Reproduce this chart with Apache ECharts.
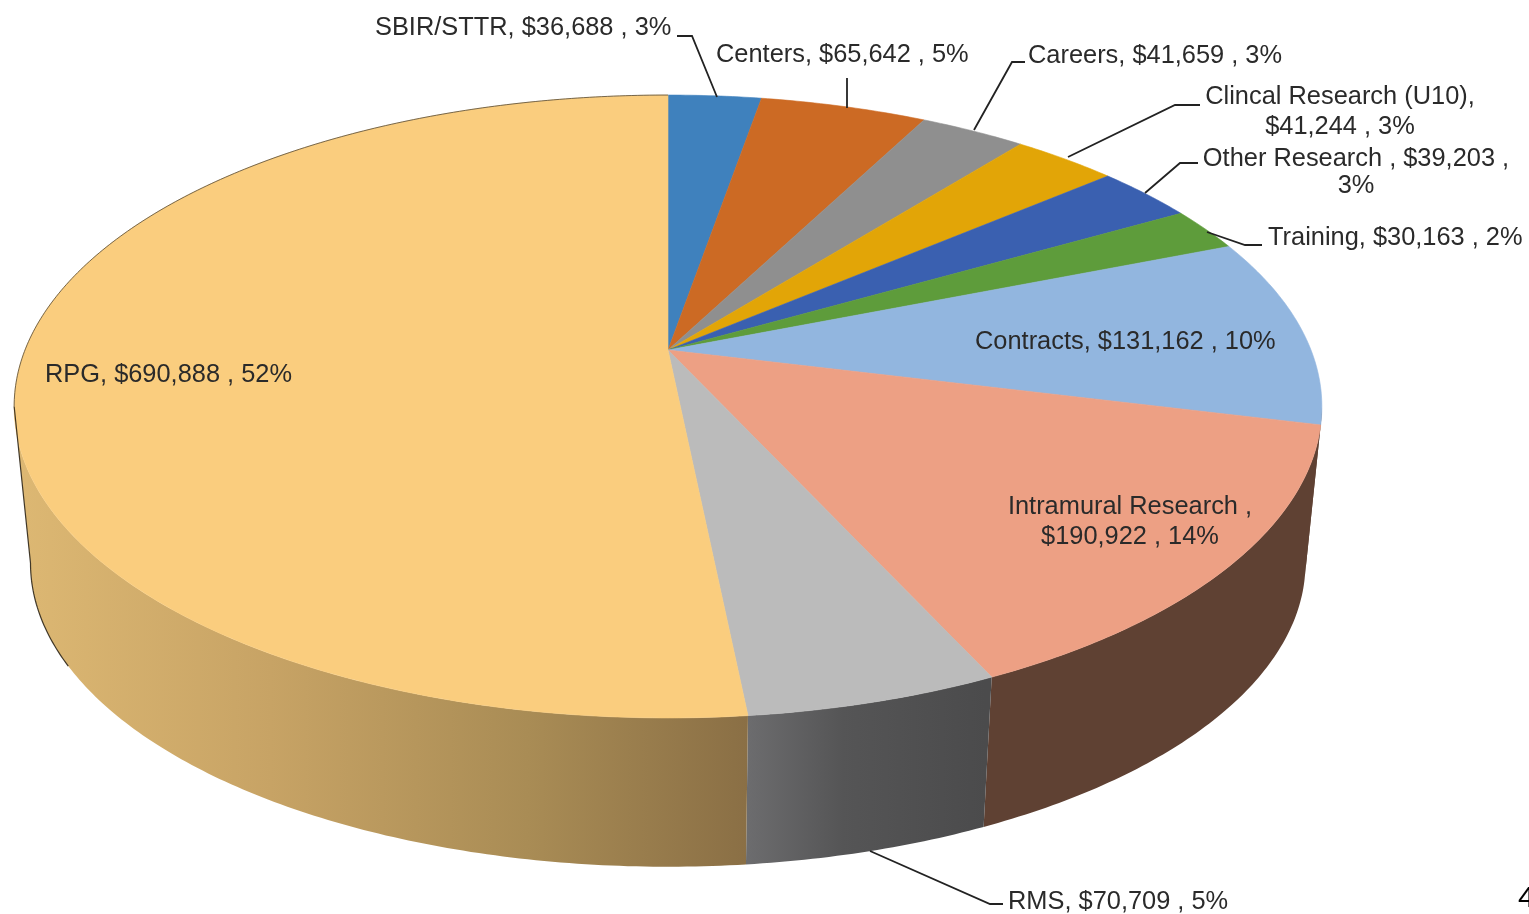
<!DOCTYPE html>
<html><head><meta charset="utf-8">
<style>html,body{margin:0;padding:0;background:#fff}#c{width:1529px;height:914px}</style>
<script src="https://cdn.jsdelivr.net/npm/echarts@6/dist/echarts.min.js"></script>
</head><body><div id="c"></div>
<script>
// ---- data, clockwise from 12 o'clock ----
const categories = ['SBIR/STTR','Centers','Careers','Clincal Research (U10)','Other Research ','Training','Contracts','Intramural Research ','RMS','RPG'];
const values = [36688,65642,41659,41244,39203,30163,131162,190922,70709,690888];
const percents = [3,5,3,3,3,2,10,14,5,52];
const topColors = ['#3F81BD','#CC6A24','#8F8F8F','#E2A507','#3A60B0','#5E9C3B','#92B6DF','#EDA084','#BBBBBB','#FACD7E'];

// ---- layout (page pixels), separate from the data ----
const labelBoxes = [
  {x:375,y:28,align:'left'},{x:716,y:55,align:'left'},{x:1028,y:56,align:'left'},
  {x:1340,y:112,align:'center'},{x:1356,y:172,align:'center'},
  {x:1268,y:238,align:'left'},{x:975,y:342,align:'left'},
  {x:1130,y:522,align:'center'},{x:1008,y:902,align:'left'},{x:45,y:375,align:'left'}
];
const leaders = [
  [[677,36],[692,36],[717,97]],[[847,78],[847,108]],[[1025,62],[1012,62],[974,130]],
  [[1200,105],[1175,105],[1068,157]],[[1198,163],[1180,163],[1145,193]],[[1262,245],[1245,245],[1207,232]],
  null,null,[[1003,904],[990,904],[870,851]],null
];
const CX=668, CY=350, A=643, B=301.2, K=0.1814, S=0.975, DY=158;
const EDGE_R=Math.acos(-K), EDGE_L=2*Math.PI-EDGE_R;
const FONT='25.4px "Liberation Sans", Arial, sans-serif';

const total = values.reduce((a,b)=>a+b,0);
let running = 0;
const slices = values.map((v,i)=>{const s=running; running+=v; return [i, s/total*2*Math.PI, running/total*2*Math.PI];});

function topPt(t){const u=Math.sin(t),v=-Math.cos(t),w=1-K*v;return [CX+A*u/w, CY+B*v/w];}
function botPt(t){const u=Math.sin(t),v=-Math.cos(t),w=1-K*v;return [CX+S*A*u/w, CY+DY+S*B*v/w];}
function arc(f,a,b,api){const n=Math.max(2,Math.ceil(Math.abs(b-a)*90)),p=[];for(let i=0;i<=n;i++)p.push(api.coord(f(a+(b-a)*i/n)));return p;}

const wallFill = {
  9:{type:'linear',global:true,x:14,y:0,x2:748,y2:0,colorStops:[{offset:0,color:'#DDB873'},{offset:.35,color:'#C7A365'},{offset:.7,color:'#A98C55'},{offset:1,color:'#8A6F45'}]},
  8:{type:'linear',global:true,x:748,y:0,x2:985,y2:0,colorStops:[{offset:0,color:'#6C6C6E'},{offset:.4,color:'#555556'},{offset:1,color:'#4B4B4C'}]},
  7:'#5F4133', 6:'#5F4133'
};

function renderWall(params,api){
  const i=api.value(0),a=Math.max(api.value(1),EDGE_R),b=Math.min(api.value(2),EDGE_L);
  if(b<=a) return {type:'group',children:[]};
  const pts=arc(topPt,a,b,api).concat(arc(botPt,b,a,api));
  return {type:'polygon',shape:{points:pts},style:{fill:wallFill[i]||'#555',stroke:null}};
}
function renderTop(params,api){
  const a=api.value(1),b=api.value(2);
  const pts=[api.coord([CX,CY])].concat(arc(topPt,a,b,api));
  return {type:'polygon',shape:{points:pts},style:{fill:topColors[api.value(0)],stroke:topColors[api.value(0)],lineWidth:.6}};
}
function renderOutline(params,api){
  if(api.value(0)!==9) return {type:'group',children:[]};
  const upper=arc(topPt,2*Math.PI,EDGE_L,api);
  const lower=arc(botPt,EDGE_L,EDGE_L-0.33,api);
  return {type:'group',children:[
    {type:'polyline',shape:{points:upper},style:{stroke:'#4a4030',lineWidth:1,fill:null,opacity:.75}},
    {type:'polyline',shape:{points:[upper[upper.length-1]].concat(lower)},style:{stroke:'#2e2618',lineWidth:1.2,fill:null,opacity:.9}}
  ]};
}
function labelText(i){
  const money='$'+values[i].toLocaleString('en-US');
  let t=categories[i]+', '+money+' , '+percents[i]+'%';
  if(i===3) t=categories[i]+',\n'+money+' , '+percents[i]+'%';
  if(i===4) t=categories[i]+', '+money+' ,\n'+percents[i]+'%';
  if(i===7) t=categories[i]+',\n'+money+' , '+percents[i]+'%';
  return t;
}
function renderLabel(params,api){
  const i=api.value(0),box=labelBoxes[i],kids=[];
  if(leaders[i]) kids.push({type:'polyline',shape:{points:leaders[i].map(p=>api.coord(p))},style:{stroke:'#222',lineWidth:1.8,fill:null}});
  const c=api.coord([box.x,box.y]);
  kids.push({type:'text',style:{text:labelText(i),x:c[0],y:c[1],font:FONT,fill:'#2a2a2a',align:box.align,verticalAlign:'middle',lineHeight:i===4?27:30}});
  return {type:'group',children:kids};
}
const common={type:'custom',coordinateSystem:'cartesian2d',data:slices,silent:true,animation:false,clip:false,encode:{x:[],y:[]}};
const chart=echarts.init(document.getElementById('c'),null,{renderer:'canvas'});
chart.setOption({
  animation:false,backgroundColor:'#fff',
  grid:{left:0,right:0,top:0,bottom:0},
  xAxis:{type:'value',min:0,max:1529,show:false},
  yAxis:{type:'value',min:0,max:914,inverse:true,show:false},
  graphic:[{type:'text',left:1518,top:884,style:{text:'4',font:'30px "Liberation Sans", Arial, sans-serif',fill:'#000'}}],
  series:[
    Object.assign({},common,{name:'side',renderItem:renderWall,z:1}),
    Object.assign({},common,{name:'top',renderItem:renderTop,z:2}),
    Object.assign({},common,{name:'outline',renderItem:renderOutline,z:3}),
    Object.assign({},common,{name:'labels',renderItem:renderLabel,z:4})
  ]
});
</script></body></html>
